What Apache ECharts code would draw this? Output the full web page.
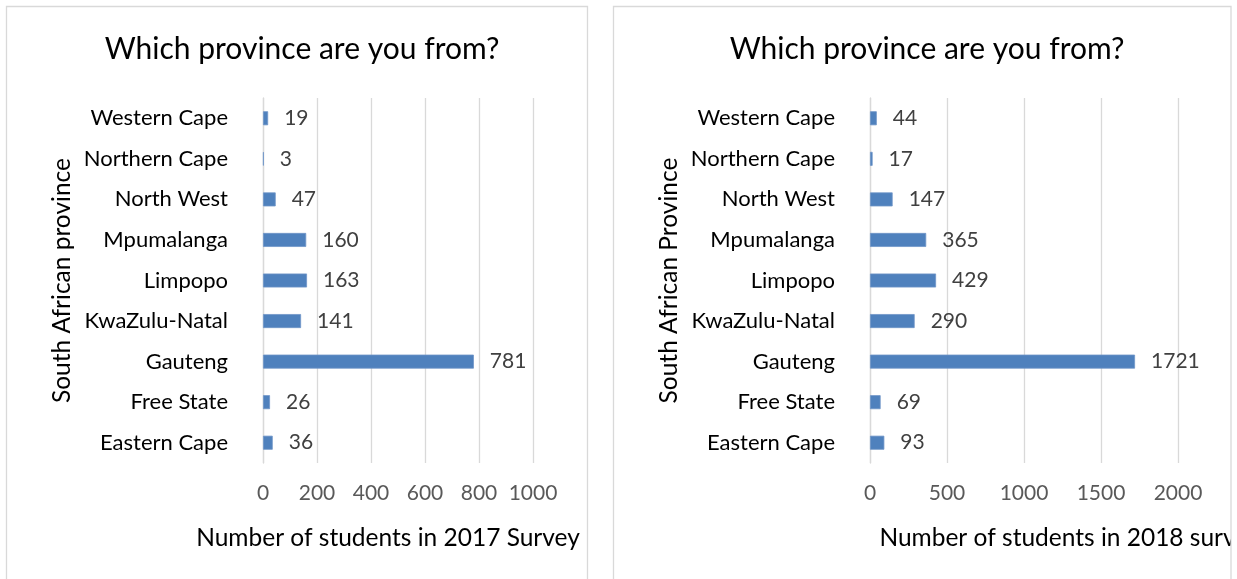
<!DOCTYPE html>
<html>
<head>
<meta charset="utf-8">
<script src="https://cdn.jsdelivr.net/npm/echarts@6/dist/echarts.min.js"></script>
<style>
  html, body { margin: 0; padding: 0; background: #fff; }
  #chart { width: 1237px; height: 579px; }
</style>
</head>
<body>
<div id="chart"></div>
<script>
// Province list, top to bottom
const provinces = ['Western Cape', 'Northern Cape', 'North West', 'Mpumalanga', 'Limpopo',
                   'KwaZulu-Natal', 'Gauteng', 'Free State', 'Eastern Cape'];
// Students per province in each survey
const students2017 = [19, 3, 47, 160, 163, 141, 781, 26, 36];
const students2018 = [44, 17, 147, 365, 429, 290, 1721, 69, 93];
// Value axis tick settings
const ticks2017 = { min: 0, max: 1000, interval: 200 };
const ticks2018 = { min: 0, max: 2000, interval: 500 };

const FONT = 'Lato';
const BAR = '#4F81BD';
const GRID = '#D9D9D9';

function valueAxis(gridIndex, ticks, name, shift) {
  return {
    type: 'value', gridIndex, min: ticks.min, max: ticks.max, interval: ticks.interval,
    axisLine: { show: false }, axisTick: { show: false },
    splitLine: { show: true, lineStyle: { color: GRID, width: 1.3 } },
    axisLabel: { color: '#595959', fontSize: 21, fontFamily: FONT, margin: 20,
                 formatter: v => String(v) },
    name, nameLocation: 'middle', nameGap: 63,
    nameTextStyle: {
      color: '#000', fontSize: 24.5, fontFamily: FONT,
      padding: shift >= 0 ? [0, 0, 0, shift * 2] : [0, -shift * 2, 0, 0]
    }
  };
}

function categoryAxis(gridIndex, name) {
  return {
    type: 'category', gridIndex, data: provinces, inverse: true,
    axisLine: { show: true, lineStyle: { color: GRID, width: 1.3 } },
    axisTick: { show: false },
    axisLabel: { color: '#000', fontSize: 22, fontFamily: FONT, margin: 35 },
    name, nameLocation: 'middle', nameGap: 188, nameRotate: 90,
    nameTextStyle: { color: '#000', fontSize: 24.5, fontFamily: FONT }
  };
}

function barSeries(idx, values) {
  return {
    type: 'bar', xAxisIndex: idx, yAxisIndex: idx, data: values,
    barWidth: 14,
    itemStyle: { color: BAR, borderColor: '#7096C8', borderWidth: 0.8 },
    label: { show: true, position: 'right', distance: 16, color: '#404040',
             fontSize: 21, fontFamily: FONT },
    silent: true
  };
}

const chart = echarts.init(document.getElementById('chart'), null, { renderer: 'canvas' });
chart.setOption({
  animation: false,
  backgroundColor: '#fff',
  title: [
    { text: 'Which province are you from?', left: 297, top: 29, textAlign: 'center',
      textStyle: { color: '#000', fontSize: 30, fontWeight: 'normal', fontFamily: FONT } },
    { text: 'Which province are you from?', left: 922, top: 29, textAlign: 'center',
      textStyle: { color: '#000', fontSize: 30, fontWeight: 'normal', fontFamily: FONT } }
  ],
  grid: [
    { left: 263, top: 98, width: 270, height: 365, outerBoundsMode: 'none', containLabel: false },
    { left: 870, top: 98, width: 308, height: 365, outerBoundsMode: 'none', containLabel: false }
  ],
  xAxis: [
    valueAxis(0, ticks2017, 'Number of students in 2017 Survey', -10),
    valueAxis(1, ticks2018, 'Number of students in 2018 survey', 46)
  ],
  yAxis: [
    categoryAxis(0, 'South African province'),
    categoryAxis(1, 'South African Province')
  ],
  series: [barSeries(0, students2017), barSeries(1, students2018)],
  graphic: [
    // panel frames
    { type: 'rect', z: 100, silent: true,
      shape: { x: 6.5, y: 6.5, width: 581, height: 620 },
      style: { fill: null, stroke: GRID, lineWidth: 1.3 } },
    // right edge past the second frame stays blank
    { type: 'rect', z: 99, silent: true,
      shape: { x: 1231, y: 0, width: 10, height: 579 },
      style: { fill: '#fff' } },
    { type: 'rect', z: 100, silent: true,
      shape: { x: 613.5, y: 6.5, width: 617.5, height: 620 },
      style: { fill: null, stroke: GRID, lineWidth: 1.3 } }
  ]
});
</script>
</body>
</html>
